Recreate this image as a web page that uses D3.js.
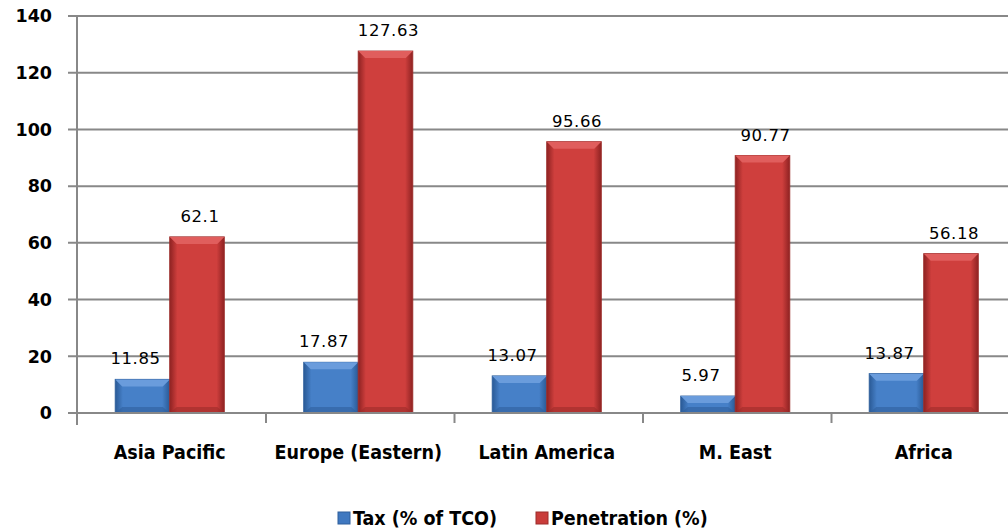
<!DOCTYPE html>
<html>
<head>
<meta charset="utf-8">
<script src="https://cdn.jsdelivr.net/npm/d3@7"></script>
<style>
  body { margin: 0; background: #fff; }
  svg { display: block; }
</style>
</head>
<body>
<div id="chart"></div>
<script>
const categories = ["Asia Pacific", "Europe (Eastern)", "Latin America", "M. East", "Africa"];
const seriesNames = ["Tax (% of TCO)", "Penetration (%)"];
const taxValues = [11.85, 17.87, 13.07, 5.97, 13.87];
const penetrationValues = [62.1, 127.63, 95.66, 90.77, 56.18];
const yTicks = [0, 20, 40, 60, 80, 100, 120, 140];

const W = 1008, H = 532;
const plot = { left: 77, top: 16, bottom: 413, right: 1020 };

const svg = d3.select("#chart").append("svg")
    .attr("width", W)
    .attr("height", H);

const defs = svg.append("defs");
function makeGrad(id, edge, mid) {
    const g = defs.append("linearGradient").attr("id", id)
        .attr("x1", "0").attr("x2", "1").attr("y1", "0").attr("y2", "0");
    g.append("stop").attr("offset", "0%").attr("stop-color", edge);
    g.append("stop").attr("offset", "14%").attr("stop-color", mid);
    g.append("stop").attr("offset", "86%").attr("stop-color", mid);
    g.append("stop").attr("offset", "100%").attr("stop-color", edge);
}
makeGrad("gBlue", "#2a5a96", "#4680c8");
makeGrad("gRed", "#8e2222", "#cf3f3d");

const x0 = d3.scaleBand().domain(categories).range([plot.left + 0.5, plot.right]);
const x1 = d3.scaleBand().domain(seriesNames).range([0, 109]);
const y = d3.scaleLinear().domain([0, 140]).range([plot.bottom, plot.top]);
const colors = {
    "Tax (% of TCO)": { fill: "url(#gBlue)", top: "#6a9cdc", base: "#2f5f9c", swatch: "#3f78c0", shift: -7 },
    "Penetration (%)": { fill: "url(#gRed)", top: "#e05e5d", base: "#9c2c2a", swatch: "#c93c3a", shift: 3 }
};

// gridlines
svg.append("g")
    .selectAll("line")
    .data(yTicks)
    .enter().append("line")
    .attr("x1", plot.left - 9)
    .attr("x2", W)
    .attr("y1", d => y(d))
    .attr("y2", d => y(d))
    .attr("stroke", "#888")
    .attr("stroke-width", 2);

// y axis line
svg.append("line")
    .attr("x1", plot.left).attr("x2", plot.left)
    .attr("y1", plot.top).attr("y2", plot.bottom + 12)
    .attr("stroke", "#888").attr("stroke-width", 2);

// y tick labels
svg.append("g")
    .selectAll("text")
    .data(yTicks)
    .enter().append("text")
    .attr("x", 52)
    .attr("y", d => y(d))
    .attr("dy", "0.36em")
    .attr("text-anchor", "end")
    .style("font-family", "'DejaVu Sans', sans-serif")
    .style("font-weight", "bold")
    .style("font-size", "17.5px")
    .text(d => d);

// x tick marks at band boundaries
svg.append("g")
    .selectAll("line")
    .data(categories.slice(1))
    .enter().append("line")
    .attr("x1", d => x0(d)).attr("x2", d => x0(d))
    .attr("y1", plot.bottom).attr("y2", plot.bottom + 10)
    .attr("stroke", "#888").attr("stroke-width", 2);

const rows = categories.map((c, i) => ({
    cat: c,
    vals: [
        { key: seriesNames[0], v: taxValues[i] },
        { key: seriesNames[1], v: penetrationValues[i] }
    ]
}));

const groups = svg.append("g")
    .selectAll("g")
    .data(rows)
    .enter().append("g")
    .attr("transform", d => `translate(${x0(d.cat) + (x0.bandwidth() - 109) / 2 - 2},0)`);

const bars = groups.selectAll("g.bar")
    .data(d => d.vals)
    .enter().append("g")
    .attr("class", "bar");

bars.append("rect")
    .attr("x", d => x1(d.key))
    .attr("y", d => y(d.v))
    .attr("width", x1.bandwidth())
    .attr("height", d => y(0) - y(d.v))
    .attr("fill", d => colors[d.key].fill)
    .attr("stroke", d => colors[d.key].base)
    .attr("stroke-width", 1);

// top bevel
bars.append("path")
    .attr("d", d => {
        const xl = x1(d.key), xr = xl + x1.bandwidth(), yt = y(d.v);
        const b = Math.min(7, (y(0) - yt) / 2);
        return `M${xl},${yt}L${xr},${yt}L${xr - 7},${yt + b}L${xl + 7},${yt + b}Z`;
    })
    .attr("fill", d => colors[d.key].top);

// bottom bevel
bars.append("path")
    .attr("d", d => {
        const xl = x1(d.key), xr = xl + x1.bandwidth(), yb = y(0);
        const b = Math.min(6, (y(0) - y(d.v)) / 2);
        return `M${xl},${yb}L${xr},${yb}L${xr - 7},${yb - b}L${xl + 7},${yb - b}Z`;
    })
    .attr("fill", d => colors[d.key].base)
    .attr("opacity", 0.6);

// value labels
bars.append("text")
    .attr("x", d => x1(d.key) + x1.bandwidth() / 2 + colors[d.key].shift)
    .attr("y", d => y(d.v) - 15)
    .attr("text-anchor", "middle")
    .style("font-family", "'DejaVu Sans', sans-serif")
    .style("font-size", "16.5px")
    .style("letter-spacing", "0.6px")
    .text(d => d.v);

// x axis line
svg.append("line")
    .attr("x1", plot.left).attr("x2", W)
    .attr("y1", plot.bottom).attr("y2", plot.bottom)
    .attr("stroke", "#888").attr("stroke-width", 2);

// category labels
svg.append("g")
    .selectAll("text")
    .data(categories)
    .enter().append("text")
    .attr("x", d => x0(d) + x0.bandwidth() / 2 - 2)
    .attr("y", 452)
    .attr("dy", "0.35em")
    .attr("text-anchor", "middle")
    .style("font-family", "'DejaVu Sans Condensed', 'DejaVu Sans', sans-serif")
    .style("font-weight", "bold")
    .style("font-size", "19.5px")
    .text(d => d);

// legend
const legendData = [
    { name: seriesNames[0], x: 338 },
    { name: seriesNames[1], x: 536 }
];
const legend = svg.append("g")
    .selectAll("g")
    .data(legendData)
    .enter().append("g")
    .attr("transform", d => `translate(${d.x},512)`);

legend.append("rect")
    .attr("width", 12).attr("height", 12)
    .attr("fill", d => colors[d.name].swatch)
    .attr("stroke", d => colors[d.name].base);

legend.append("text")
    .attr("x", 15)
    .attr("y", 6)
    .attr("dy", "0.35em")
    .style("font-family", "'DejaVu Sans Condensed', 'DejaVu Sans', sans-serif")
    .style("font-weight", "bold")
    .style("font-size", "19.5px")
    .text(d => d.name);
</script>
</body>
</html>
